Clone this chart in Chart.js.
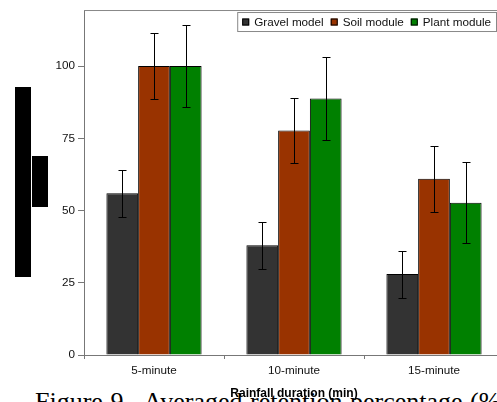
<!DOCTYPE html>
<html lang="en">
<head>
    <meta charset="UTF-8">
    <title>Retention chart</title>
    <script src="https://cdn.jsdelivr.net/npm/chart.js"></script>
    <style>
        body { margin: 0; width: 497px; height: 402px; overflow: hidden; background: #fff; position: relative; }
        #caption { position: absolute; left: 35px; top: 389px; font: 26px/26px "Liberation Serif", serif; color: #000; white-space: nowrap; word-spacing: 1px; }
        #wrap { position: absolute; left: 0; top: 0; }
    </style>
</head>
<body>
    <div id="caption">Figure 9.&nbsp; Averaged retention percentage (%)</div>
    <div id="wrap"><canvas id="myChart"></canvas></div>
    <script>
        const categories = ['5-minute', '10-minute', '15-minute'];
        const seriesNames = ['Gravel model', 'Soil module', 'Plant module'];
        const gravel = [56, 38, 28];
        const soil = [100, 77.7, 61];
        const plant = [100, 88.8, 52.7];
        const gravelErr = [8.2, 8.2, 8.1];
        const soilErr = [11.3, 11.3, 11.4];
        const plantErr = [14.2, 14.3, 14.1];
        const yTicks = [0, 25, 50, 75, 100];

        // redaction blocks on the left of the figure
        const blocks = {
            id: 'blocks',
            afterDraw(chart) {
                const c = chart.ctx;
                c.save();
                c.fillStyle = '#000';
                c.fillRect(15, 87, 16, 190);
                c.fillRect(32, 156, 16, 51);
                c.restore();
            }
        };

        const frame = {
            id: 'frame',
            afterDatasetsDraw(chart) {
                const a = chart.chartArea, c = chart.ctx;
                c.save();
                c.strokeStyle = '#888';
                c.lineWidth = 1;
                c.beginPath();
                c.moveTo(a.left, a.top + 0.5);
                c.lineTo(a.right, a.top + 0.5);
                c.moveTo(a.right - 0.5, a.top);
                c.lineTo(a.right - 0.5, a.bottom);
                c.stroke();
                c.restore();
            }
        };

        const errorBars = {
            id: 'errorBars',
            afterDatasetsDraw(chart) {
                const c = chart.ctx, y = chart.scales.y;
                c.save();
                c.strokeStyle = '#000';
                c.lineWidth = 1;
                chart.data.datasets.forEach((ds, i) => {
                    chart.getDatasetMeta(i).data.forEach((bar, j) => {
                        const v = ds.data[j], e = ds.err[j];
                        const x = Math.round(bar.x) + 0.5;
                        const t = Math.round(y.getPixelForValue(v + e)) + 0.5;
                        const b = Math.round(y.getPixelForValue(v - e)) + 0.5;
                        c.beginPath();
                        c.moveTo(x, t); c.lineTo(x, b);
                        c.moveTo(x - 4, t); c.lineTo(x + 4, t);
                        c.moveTo(x - 4, b); c.lineTo(x + 4, b);
                        c.stroke();
                    });
                });
                c.restore();
            }
        };

        const boxLegend = {
            id: 'boxLegend',
            afterDraw(chart) {
                const c = chart.ctx, a = chart.chartArea;
                c.save();
                c.font = '11.7px Arial, "Liberation Sans", sans-serif';
                const items = chart.data.datasets.map(ds => ({ label: ds.label, color: ds.backgroundColor, w: c.measureText(ds.label).width }));
                let width = 5;
                items.forEach((it, i) => { width += 12 + it.w + (i < items.length - 1 ? 7 : 6); });
                const right = a.right - 7, left = right - width, top = a.top + 2, h = 20;
                c.fillStyle = '#fff';
                c.fillRect(left, top, width, h);
                c.strokeStyle = '#888';
                c.strokeRect(left + 0.5, top + 0.5, width - 1, h - 1);
                let x = left + 5;
                const cy = top + h / 2;
                c.textBaseline = 'middle';
                items.forEach(it => {
                    c.fillStyle = it.color;
                    c.fillRect(x, cy - 3.5, 7, 7);
                    c.strokeStyle = '#000';
                    c.strokeRect(x + 0.5, cy - 3, 6, 6);
                    c.fillStyle = '#111';
                    c.fillText(it.label, x + 12, cy + 0.5);
                    x += 12 + it.w + 7;
                });
                c.restore();
            }
        };

        const ctx = document.getElementById('myChart');
        ctx.style.width = '520px';
        ctx.style.height = '402px';
        ctx.width = 520;
        ctx.height = 402;

        const myChart = new Chart(ctx, {
            type: 'bar',
            data: {
                labels: categories,
                datasets: [
                    { label: seriesNames[0], data: gravel, err: gravelErr, backgroundColor: '#333333' },
                    { label: seriesNames[1], data: soil, err: soilErr, backgroundColor: '#993300' },
                    { label: seriesNames[2], data: plant, err: plantErr, backgroundColor: '#008000' }
                ].map(d => Object.assign(d, { borderColor: '#000', borderWidth: 1, categoryPercentage: 0.68, barPercentage: 1 }))
            },
            options: {
                responsive: false,
                animation: false,
                layout: { padding: { top: 10, right: 16, left: 0, bottom: 0 } },
                plugins: { legend: { display: false }, tooltip: { enabled: false } },
                scales: {
                    x: {
                        afterFit: s => { s.height = 47; },
                        grid: { drawOnChartArea: false, tickLength: 4, color: '#777' },
                        border: { color: '#777' },
                        ticks: { padding: 5, color: '#111', font: { family: 'Arial, "Liberation Sans"', size: 11.7 } },
                        title: { display: true, text: 'Rainfall duration (min)', color: '#000', padding: { top: 0, bottom: 1 }, font: { family: 'Arial, "Liberation Sans"', size: 12, weight: 'bold' } }
                    },
                    y: {
                        min: 0,
                        max: 119.4,
                        afterFit: s => { s.width = 84; },
                        afterBuildTicks: s => { s.ticks = yTicks.map(v => ({ value: v })); },
                        grid: { drawOnChartArea: false, tickLength: 6, color: '#777' },
                        border: { color: '#777' },
                        ticks: { padding: 3, color: '#111', font: { family: 'Arial, "Liberation Sans"', size: 11.7 } }
                    }
                }
            },
            plugins: [frame, errorBars, boxLegend, blocks]
        });
    </script>
</body>
</html>
